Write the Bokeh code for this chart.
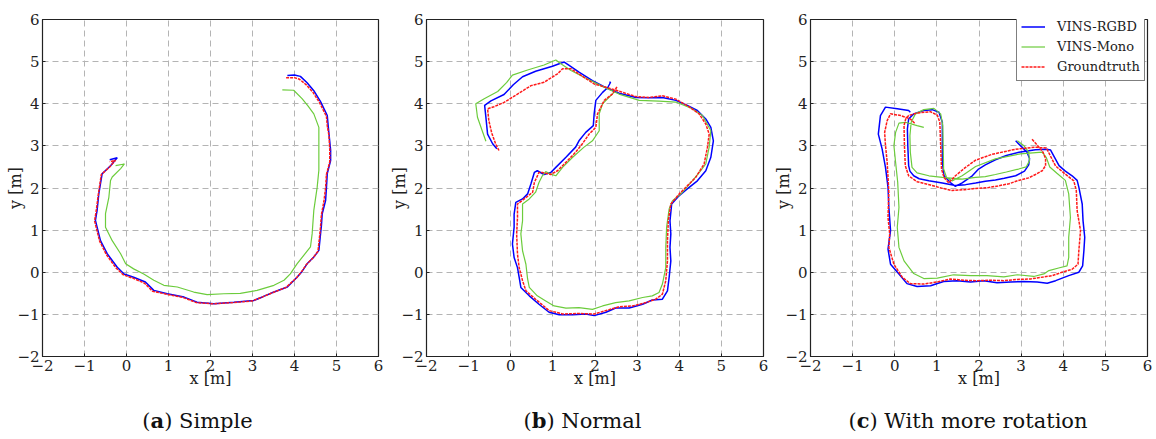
from bokeh.plotting import figure
from bokeh.models import Range1d, FixedTicker, Div
from bokeh.layouts import row, column
from bokeh.embed import file_html
from bokeh.resources import INLINE

TICKS = [-2, -1, 0, 1, 2, 3, 4, 5, 6]
TICK_LABELS = {-2: "\u22122", -1: "\u22121", 0: "0", 1: "1", 2: "2", 3: "3", 4: "4", 5: "5", 6: "6"}
SERIES = ["VINS-RGBD", "VINS-Mono", "Groundtruth"]
CAPTIONS = [("a", "Simple"), ("b", "Normal"), ("c", "With more rotation")]

# ---- (a) Simple ----
a_rgbd_x = [3.83, 4.00, 4.14, 4.30, 4.46, 4.62, 4.78, 4.80, 4.82, 4.86, 4.86, 4.78, 4.76, 4.74, 4.66, 4.64, 4.62, 4.58, 4.46, 4.30, 4.18, 4.06, 3.83, 3.51, 3.25, 3.03, 2.56, 2.08, 1.68, 1.37, 0.97, 0.65, 0.45, 0.17, -0.06, -0.22, -0.46, -0.62, -0.74, -0.70, -0.66, -0.58, -0.38, -0.22, -0.40]
a_rgbd_y = [4.67, 4.68, 4.65, 4.50, 4.31, 4.05, 3.72, 3.50, 3.29, 2.90, 2.65, 2.34, 2.00, 1.70, 1.39, 1.10, 0.91, 0.52, 0.36, 0.20, 0.02, -0.12, -0.35, -0.47, -0.58, -0.67, -0.71, -0.75, -0.71, -0.59, -0.51, -0.43, -0.23, -0.12, -0.04, 0.12, 0.44, 0.75, 1.23, 1.47, 1.86, 2.34, 2.53, 2.72, 2.67]
a_mono_x = [3.71, 3.98, 4.18, 4.32, 4.46, 4.58, 4.58, 4.58, 4.54, 4.46, 4.42, 4.38, 4.22, 4.06, 3.90, 3.75, 3.51, 3.11, 2.71, 2.32, 1.92, 1.60, 1.21, 0.89, 0.65, 0.41, 0.17, -0.02, -0.14, -0.34, -0.50, -0.50, -0.42, -0.38, -0.34, -0.14, -0.05, -0.26]
a_mono_y = [4.33, 4.32, 4.12, 3.95, 3.76, 3.44, 2.97, 2.42, 2.02, 1.47, 0.91, 0.60, 0.40, 0.20, -0.04, -0.19, -0.31, -0.43, -0.50, -0.51, -0.53, -0.47, -0.35, -0.31, -0.19, -0.04, 0.08, 0.20, 0.44, 0.75, 1.07, 1.39, 1.78, 2.18, 2.26, 2.46, 2.57, 2.53]
a_gt_x = [3.80, 4.00, 4.12, 4.28, 4.44, 4.60, 4.76, 4.78, 4.82, 4.84, 4.84, 4.76, 4.74, 4.70, 4.64, 4.62, 4.60, 4.56, 4.44, 4.28, 4.16, 4.04, 3.80, 3.49, 3.23, 3.00, 2.54, 2.06, 1.66, 1.35, 0.95, 0.62, 0.43, 0.15, -0.08, -0.25, -0.48, -0.64, -0.76, -0.72, -0.67, -0.60, -0.40, -0.26, -0.40]
a_gt_y = [4.62, 4.62, 4.58, 4.45, 4.27, 4.02, 3.70, 3.48, 3.25, 2.90, 2.62, 2.32, 2.00, 1.68, 1.36, 1.08, 0.88, 0.50, 0.34, 0.18, 0.00, -0.14, -0.36, -0.48, -0.59, -0.68, -0.72, -0.75, -0.72, -0.60, -0.52, -0.45, -0.26, -0.14, -0.06, 0.10, 0.42, 0.74, 1.22, 1.46, 1.85, 2.32, 2.50, 2.66, 2.62]

# ---- (b) Normal ----
b_rgbd_x = [2.34, 2.37, 2.30, 2.18, 2.02, 1.98, 1.96, 1.78, 1.62, 1.54, 1.31, 1.07, 0.95, 0.79, 0.63, 0.56, 0.48, 0.40, 0.28, 0.12, 0.08, 0.08, 0.04, 0.08, 0.16, 0.20, 0.24, 0.44, 0.67, 0.91, 1.15, 1.47, 1.78, 1.98, 2.26, 2.49, 2.81, 3.13, 3.36, 3.60, 3.72, 3.76, 3.80, 3.78, 3.80, 3.78, 3.82, 4.00, 4.19, 4.43, 4.63, 4.75, 4.81, 4.75, 4.63, 4.43, 4.19, 3.92, 3.60, 3.28, 2.97, 2.57, 2.26, 1.94, 1.62, 1.36, 1.27, 1.15, 0.99, 0.59, 0.28, 0.06, -0.16, -0.47, -0.62, -0.59, -0.55, -0.43, -0.33]
b_rgbd_y = [4.51, 4.51, 4.38, 4.27, 4.08, 3.76, 3.48, 3.32, 3.12, 2.97, 2.73, 2.49, 2.37, 2.32, 2.41, 2.37, 2.10, 1.86, 1.74, 1.66, 1.38, 1.07, 0.67, 0.35, 0.11, -0.12, -0.36, -0.56, -0.76, -0.95, -1.01, -1.01, -0.99, -1.03, -0.95, -0.85, -0.85, -0.76, -0.66, -0.64, -0.44, -0.12, 0.27, 0.59, 0.91, 1.22, 1.62, 1.82, 1.98, 2.17, 2.41, 2.73, 3.12, 3.44, 3.64, 3.84, 3.96, 4.08, 4.15, 4.14, 4.15, 4.25, 4.38, 4.55, 4.75, 4.93, 4.99, 4.95, 4.89, 4.77, 4.64, 4.45, 4.22, 4.07, 3.96, 3.68, 3.28, 3.05, 2.93]
b_mono_x = [2.45, 2.34, 2.18, 2.10, 2.10, 1.94, 1.74, 1.47, 1.23, 1.07, 0.95, 0.83, 0.75, 0.67, 0.59, 0.44, 0.28, 0.28, 0.24, 0.28, 0.36, 0.40, 0.44, 0.63, 0.83, 1.03, 1.31, 1.62, 1.94, 2.18, 2.49, 2.81, 3.13, 3.36, 3.52, 3.60, 3.68, 3.68, 3.70, 3.76, 3.84, 4.04, 4.31, 4.51, 4.63, 4.71, 4.75, 4.55, 4.31, 3.92, 3.52, 3.05, 2.57, 2.14, 1.74, 1.43, 1.19, 1.07, 0.79, 0.40, 0.04, -0.10, -0.31, -0.63, -0.83, -0.79, -0.59]
b_mono_y = [4.27, 4.16, 4.00, 3.76, 3.36, 3.12, 2.97, 2.73, 2.49, 2.29, 2.33, 2.39, 2.29, 2.13, 1.90, 1.74, 1.62, 1.22, 0.91, 0.51, 0.19, -0.16, -0.36, -0.56, -0.68, -0.80, -0.85, -0.84, -0.88, -0.80, -0.72, -0.68, -0.60, -0.56, -0.48, -0.28, 0.11, 0.59, 1.07, 1.50, 1.70, 1.86, 2.17, 2.41, 2.57, 2.97, 3.36, 3.72, 3.88, 4.04, 4.06, 4.08, 4.23, 4.43, 4.63, 4.79, 4.95, 5.04, 4.92, 4.80, 4.68, 4.50, 4.29, 4.12, 4.00, 3.68, 3.11]
b_gt_x = [2.52, 2.49, 2.41, 2.22, 2.06, 2.02, 1.86, 1.70, 1.54, 1.35, 1.11, 0.95, 0.75, 0.67, 0.56, 0.52, 0.32, 0.16, 0.16, 0.14, 0.16, 0.20, 0.28, 0.36, 0.59, 0.91, 1.23, 1.62, 1.98, 2.26, 2.57, 2.89, 3.21, 3.44, 3.60, 3.68, 3.72, 3.72, 3.74, 3.80, 4.00, 4.19, 4.39, 4.59, 4.67, 4.71, 4.63, 4.47, 4.23, 3.92, 3.60, 3.28, 2.97, 2.57, 2.26, 1.98, 1.43, 1.23, 1.11, 0.79, 0.48, 0.16, -0.16, -0.40, -0.55, -0.52, -0.45, -0.36, -0.28]
b_gt_y = [4.40, 4.35, 4.23, 4.08, 3.76, 3.44, 3.28, 3.05, 2.85, 2.65, 2.41, 2.32, 2.37, 2.37, 2.13, 1.90, 1.74, 1.62, 1.30, 0.91, 0.43, 0.11, -0.20, -0.44, -0.64, -0.91, -0.99, -0.98, -0.99, -0.91, -0.82, -0.80, -0.72, -0.64, -0.52, -0.20, 0.27, 0.75, 1.22, 1.62, 1.86, 2.05, 2.25, 2.57, 2.97, 3.28, 3.52, 3.76, 3.93, 4.11, 4.19, 4.15, 4.17, 4.30, 4.39, 4.47, 4.83, 4.83, 4.71, 4.51, 4.43, 4.23, 4.03, 3.93, 3.88, 3.60, 3.30, 3.05, 2.89]

# ---- (c) With more rotation ----
c_rgbd_x = [2.87, 3.02, 3.14, 3.20, 3.18, 3.08, 2.87, 2.60, 2.39, 2.15, 1.92, 1.68, 1.44, 1.13, 0.81, 0.58, 0.45, 0.36, 0.33, 0.31, 0.30, 0.33, 0.45, 0.69, 0.89, 1.05, 1.13, 1.13, 1.13, 1.17, 1.32, 1.44, 1.60, 1.84, 1.99, 2.15, 2.39, 2.65, 2.95, 3.34, 3.60, 3.70, 3.78, 3.90, 4.05, 4.21, 4.33, 4.37, 4.45, 4.47, 4.51, 4.49, 4.46, 4.37, 4.13, 3.82, 3.62, 3.38, 3.06, 2.75, 2.43, 2.11, 1.80, 1.48, 1.16, 0.85, 0.53, 0.29, 0.10, -0.10, -0.16, -0.10, -0.14, -0.16, -0.22, -0.30, -0.39, -0.34, -0.22, 0.06, 0.33, 0.37]
c_rgbd_y = [3.12, 2.97, 2.85, 2.70, 2.55, 2.40, 2.29, 2.23, 2.19, 2.16, 2.12, 2.08, 2.06, 2.12, 2.17, 2.22, 2.29, 2.40, 2.53, 3.00, 3.40, 3.64, 3.76, 3.84, 3.86, 3.80, 3.56, 3.10, 2.61, 2.29, 2.13, 2.04, 2.12, 2.29, 2.45, 2.55, 2.67, 2.77, 2.85, 2.91, 2.92, 2.90, 2.75, 2.53, 2.40, 2.29, 2.18, 2.02, 1.62, 1.22, 0.83, 0.51, 0.15, 0.00, -0.08, -0.20, -0.26, -0.23, -0.22, -0.23, -0.25, -0.20, -0.23, -0.20, -0.22, -0.32, -0.34, -0.27, -0.04, 0.19, 0.55, 0.99, 1.54, 2.02, 2.49, 2.93, 3.28, 3.72, 3.92, 3.88, 3.84, 3.80]
c_mono_x = [2.91, 3.06, 3.18, 3.20, 3.12, 2.94, 2.65, 2.39, 2.15, 1.92, 1.60, 1.13, 0.81, 0.53, 0.41, 0.37, 0.36, 0.39, 0.49, 0.69, 0.93, 1.09, 1.14, 1.15, 1.16, 1.23, 1.36, 1.60, 1.92, 2.39, 2.98, 3.50, 3.60, 3.68, 3.85, 4.05, 4.13, 4.17, 4.13, 4.13, 4.09, 3.89, 3.66, 3.54, 3.30, 2.91, 2.59, 2.19, 1.80, 1.40, 1.01, 0.69, 0.45, 0.22, 0.10, 0.06, 0.10, 0.07, 0.02, -0.02, 0.02, 0.10, 0.25, 0.53, 0.69]
c_mono_y = [3.12, 3.01, 2.85, 2.65, 2.50, 2.45, 2.38, 2.32, 2.27, 2.25, 2.21, 2.25, 2.29, 2.36, 2.49, 2.85, 3.24, 3.56, 3.76, 3.86, 3.89, 3.76, 3.48, 3.01, 2.45, 2.25, 2.17, 2.29, 2.51, 2.69, 2.81, 2.85, 2.72, 2.50, 2.35, 2.18, 1.86, 1.30, 0.83, 0.35, 0.15, 0.10, 0.04, -0.04, -0.10, -0.06, -0.11, -0.08, -0.08, -0.06, -0.14, -0.15, -0.03, 0.27, 0.59, 1.07, 1.54, 2.14, 2.61, 3.01, 3.32, 3.54, 3.56, 3.48, 3.44]
c_gt_x = [3.26, 3.40, 3.52, 3.58, 3.58, 3.50, 3.34, 3.18, 2.94, 2.71, 2.45, 2.23, 1.92, 1.66, 1.36, 1.10, 0.85, 0.53, 0.33, 0.25, 0.23, 0.22, 0.26, 0.33, 0.53, 0.85, 1.01, 1.07, 1.09, 1.11, 1.17, 1.28, 1.44, 1.68, 1.92, 2.31, 2.87, 3.34, 3.60, 3.70, 3.82, 4.05, 4.25, 4.31, 4.33, 4.41, 4.37, 4.35, 4.21, 3.97, 3.74, 3.54, 3.22, 2.91, 2.59, 2.27, 1.96, 1.64, 1.32, 1.01, 0.69, 0.37, 0.18, -0.02, -0.14, -0.12, -0.16, -0.14, -0.18, -0.22, -0.24, -0.18, -0.10, 0.14, 0.37, 0.49]
c_gt_y = [3.16, 3.00, 2.85, 2.70, 2.53, 2.41, 2.32, 2.24, 2.18, 2.10, 2.05, 2.01, 1.99, 1.96, 1.94, 2.00, 2.07, 2.15, 2.29, 2.53, 3.01, 3.48, 3.64, 3.72, 3.78, 3.81, 3.73, 3.56, 3.01, 2.45, 2.25, 2.12, 2.29, 2.49, 2.66, 2.80, 2.92, 2.97, 2.95, 2.75, 2.52, 2.33, 2.17, 1.94, 1.46, 0.99, 0.51, 0.19, 0.07, 0.00, -0.08, -0.11, -0.16, -0.17, -0.20, -0.19, -0.20, -0.19, -0.16, -0.23, -0.28, -0.27, -0.12, 0.19, 0.59, 0.91, 1.30, 1.90, 2.61, 3.01, 3.32, 3.60, 3.76, 3.72, 3.64, 3.52]

PANELS = [
    (a_rgbd_x, a_rgbd_y, a_mono_x, a_mono_y, a_gt_x, a_gt_y),
    (b_rgbd_x, b_rgbd_y, b_mono_x, b_mono_y, b_gt_x, b_gt_y),
    (c_rgbd_x, c_rgbd_y, c_mono_x, c_mono_y, c_gt_x, c_gt_y),
]

SERIF = "DejaVu Serif"
WIDTHS = [385, 385, 386]
LEFTS = [42, 41, 40]
RIGHTS = [7, 7, 9]


def make_panel(i):
    rx, ry, mx, my, gx, gy = PANELS[i]
    p = figure(width=WIDTHS[i], height=400, x_range=Range1d(-2, 6), y_range=Range1d(-2, 6),
               output_backend="svg", toolbar_location=None,
               min_border_left=LEFTS[i], min_border_right=RIGHTS[i],
               min_border_top=19, min_border_bottom=44)
    p.background_fill_color = "white"
    p.border_fill_color = "white"
    p.outline_line_color = "#222222"
    p.outline_line_width = 1.2
    for ax in (p.xaxis[0], p.yaxis[0]):
        ax.ticker = FixedTicker(ticks=TICKS)
        ax.major_label_overrides = TICK_LABELS
        ax.major_label_text_font = SERIF
        ax.major_label_text_font_size = "15px"
        ax.major_label_text_color = "#222222"
        ax.axis_label_text_font = SERIF
        ax.axis_label_text_font_size = "16px"
        ax.axis_label_text_font_style = "normal"
        ax.axis_label_text_color = "#222222"
        ax.axis_line_color = "#222222"
        ax.major_tick_in = 3
        ax.major_tick_out = 0
        ax.major_tick_line_color = "#222222"
        ax.minor_tick_line_color = None
        ax.major_label_standoff = 3
    p.xaxis.axis_label = "x [m]"
    p.yaxis.axis_label = "y [m]"
    p.xaxis.axis_label_standoff = -5
    p.yaxis.axis_label_standoff = -11
    p.grid.grid_line_color = "#b4b4b4"
    p.grid.grid_line_dash = "6 4"
    p.grid.grid_line_width = 1

    kw_r = dict(color="#0000ff", line_width=1.5)
    kw_m = dict(color="#6ccc3c", line_width=1.2)
    kw_g = dict(color="#ff1a1a", line_width=1.5, line_dash="3 1")
    if i == 2:
        p.line(rx, ry, legend_label=SERIES[0], **kw_r)
        p.line(mx, my, legend_label=SERIES[1], **kw_m)
        p.line(gx, gy, legend_label=SERIES[2], **kw_g)
        lg = p.legend[0]
        lg.location = (206, 275)
        lg.border_line_color = "black"
        lg.border_line_width = 1
        lg.background_fill_alpha = 1.0
        lg.padding = 4
        lg.spacing = 1
        lg.margin = 0
        lg.glyph_width = 24
        lg.glyph_height = 19
        lg.label_height = 19
        lg.label_standoff = 12
        lg.label_text_font = SERIF
        lg.label_text_font_size = "13px"
        lg.label_text_color = "#222222"
    else:
        p.line(rx, ry, **kw_r)
        p.line(mx, my, **kw_m)
        p.line(gx, gy, **kw_g)
    letter, word = CAPTIONS[i]
    cap = Div(text=('<div style="width:%dpx;box-sizing:border-box;padding-left:10px;text-align:center;'
                    'font-family:\'DejaVu Serif\',serif;font-size:21px;line-height:26px;padding-top:8px;color:#111;">'
                    '(<b>%s</b>) %s</div>') % (WIDTHS[i], letter, word),
              width=WIDTHS[i], height=39, margin=0)
    return column(p, cap, spacing=0)


layout = row(*[make_panel(i) for i in range(3)], spacing=0)
open("out.html", "w").write(file_html(layout, INLINE))
